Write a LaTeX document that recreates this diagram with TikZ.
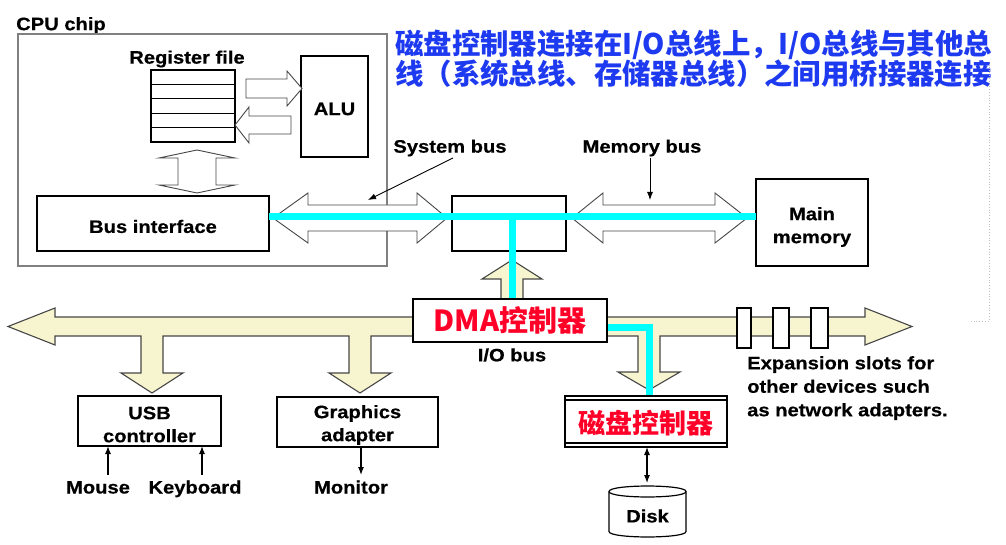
\documentclass[tikz,border=0pt]{standalone}
\usepackage{fontspec}
\setmainfont{Liberation Sans}
\newfontfamily\lab{Liberation Sans}[FakeStretch=1.12, BoldFeatures={FakeBold=0.5}]
\newfontfamily\cjk{Noto Sans CJK SC}
\usetikzlibrary{arrows.meta}

\definecolor{titleblue}{RGB}{30,58,240}
\definecolor{hotred}{RGB}{255,0,40}
\definecolor{busbeige}{RGB}{247,245,208}
\definecolor{edgegray}{RGB}{70,70,70}
\definecolor{chipgray}{RGB}{128,128,128}
\definecolor{pathcyan}{RGB}{0,255,255}
\definecolor{dotgray}{RGB}{190,190,190}

\tikzset{
  box/.style={draw=black, line width=1.2pt, fill=white, inner sep=0pt, outer sep=0pt},
  lbl/.style={font=\lab\bfseries\fontsize{18}{23}\selectfont, inner sep=0pt, align=center},
  hollow/.style={draw=edgegray, line width=0.9pt, fill=white, line join=miter},
  iobus/.style={draw=edgegray, line width=1.1pt, fill=busbeige, line join=miter},
  ptr/.style={-{Latex[length=8pt,width=6pt]}, line width=1.1pt},
  dptr/.style={{Latex[length=8pt,width=6pt]}-{Latex[length=8pt,width=6pt]}, line width=1.1pt},
  flow/.style={draw=pathcyan, line width=7pt, line join=miter},
  redtext/.style={font=\cjk\bfseries, text=hotred},
  heading/.style={font=\cjk\bfseries\fontsize{28.4}{31}\selectfont, text=titleblue, anchor=base west, inner sep=0pt}
}

\begin{document}
\begin{tikzpicture}[x=1pt,y=-1pt]
\useasboundingbox (0,0) rectangle (1006,545);

% CPU chip outline
\node[lbl, anchor=west] (cpulbl) at (16,25.5) {CPU chip};
\draw[chipgray, line width=1.1pt] (18,34) rectangle (387,266);

% register file
\node[box, minimum width=84pt, minimum height=72pt, anchor=north west] (regfile) at (151,70) {};
\foreach \yy in {84.4,98.8,113.2,127.6}
  \draw[line width=1.2pt] (151,\yy) -- (235,\yy);
\node[lbl] (reglbl) at (187,59) {Register file};

% ALU
\node[box, minimum width=67pt, minimum height=101pt, anchor=north west] (alu) at (301,56) {};
\node[lbl] (alulbl) at (334.5,109) {ALU};

% register file <-> ALU
\draw[hollow] (246,79) -- (287,79) -- (287,71) -- (302,88.5) -- (287,106) -- (287,98) -- (246,98) -- cycle;
\draw[hollow] (291,116) -- (249,116) -- (249,107) -- (235,125) -- (249,143) -- (249,134) -- (291,134) -- cycle;

% register file <-> bus interface
\draw[hollow] (197,150) -- (235,158) -- (216,158) -- (216,185) -- (235,185) -- (197,193)
  -- (159,185) -- (178,185) -- (178,158) -- (159,158) -- cycle;

% bus interface, bridge, main memory
\node[box, minimum width=232pt, minimum height=55pt, anchor=north west] (busif) at (37,196) {};
\node[lbl] (busiflbl) at (153,226.5) {Bus interface};
\node[box, minimum width=114pt, minimum height=55pt, anchor=north west] (bridge) at (452,196) {};
\node[box, minimum width=112pt, minimum height=87pt, anchor=north west] (mem) at (756,179) {};
\node[lbl] (memlbl) at (812,227) {Main\\memory};

% system bus and memory bus
\draw[hollow] (273,218) -- (308,193) -- (308,205) -- (417,205) -- (417,193) -- (447,218)
  -- (417,243) -- (417,231) -- (308,231) -- (308,243) -- cycle;
\draw[hollow] (572,218) -- (603,193) -- (603,205) -- (715,205) -- (715,193) -- (747,218)
  -- (715,243) -- (715,231) -- (603,231) -- (603,243) -- cycle;

% I/O bus with its branches
\draw[iobus] (8,326.5) -- (55,308) -- (55,317) -- (501,317) -- (501,279) -- (482,279)
  -- (512,260) -- (542,279) -- (523,279) -- (523,317) -- (865,317) -- (865,308)
  -- (912,326.5) -- (865,345) -- (865,336) -- (660,336) -- (660,372) -- (680,372)
  -- (649,390) -- (618,372) -- (638,372) -- (638,336) -- (371,336) -- (371,373)
  -- (391,373) -- (360,393) -- (329,373) -- (349,373) -- (349,336) -- (163,336)
  -- (163,373) -- (183,373) -- (152,393) -- (121,373) -- (141,373) -- (141,336)
  -- (55,336) -- (55,345) -- cycle;

% expansion slots
\foreach \xa/\xb in {737/751,773/789,811/828}
  \draw[box] (\xa,308) rectangle (\xb,348);

% DMA data path
\coordinate (jn) at (512,217);
\draw[flow] (busif.east |- jn) -- (mem.west |- jn);
\draw[flow] (jn) -- (512,300);
\draw[flow] (606,327) -- (649,327) -- (649,397);

% DMA controller
\node[box, minimum width=194pt, minimum height=43pt, redtext, font=\cjk\bfseries\fontsize{29}{32}\selectfont] (dma) at (510,320.5) {DMA控制器};
\node[lbl] (iolbl) at (512,355) {I/O bus};

\node[lbl, align=left, anchor=north west, font=\lab\bfseries\fontsize{18}{23.5}\selectfont] (exp) at (747,356) {Expansion slots for\\other devices such\\as network adapters.};

% controllers
\node[box, minimum width=143pt, minimum height=50pt, anchor=north west] (usb) at (78,396) {};
\node[lbl] (usblbl) at (149.5,424.5) {USB\\controller};
\node[box, minimum width=161pt, minimum height=50pt, anchor=north west] (gfx) at (277,397) {};
\node[lbl] (gfxlbl) at (357.5,425) {Graphics\\adapter};
\node[box, minimum width=162pt, minimum height=51pt, anchor=north west] (dkc) at (565,396) {};
\draw[line width=1.2pt] (565,400) -- (727,400);
\draw[line width=1.2pt] (565,443) -- (727,443);
\node[redtext, font=\cjk\bfseries\fontsize{27}{30}\selectfont, inner sep=0pt] (dkclbl) at (646,423) {磁盘控制器};

% devices
\node[lbl, anchor=base] (mouse) at (98,493.5) {Mouse};
\node[lbl, anchor=base] (kbd) at (195,493.5) {Keyboard};
\node[lbl, anchor=base] (mon) at (351,493.5) {Monitor};
\coordinate (mouseend) at (108,475);
\coordinate (kbdend) at (202,475);
\coordinate (monend) at (361,475);
\draw[ptr] (mouseend) -- (mouseend |- usb.south);
\draw[ptr] (kbdend) -- (kbdend |- usb.south);
\draw[ptr] (monend |- gfx.south) -- (monend);

% disk
\draw[line width=1.2pt, fill=white] (609,491.5) -- (609,531.5) .. controls (609,538.8) and (686,538.8) .. (686,531.5)
  -- (686,491.5) .. controls (686,484.2) and (609,484.2) .. (609,491.5) -- cycle;
\draw[line width=1.2pt] (609,491.5) .. controls (609,498.8) and (686,498.8) .. (686,491.5);
\node[lbl] (disk) at (647.5,516) {Disk};
\coordinate (disktop) at (647,483);
\draw[dptr] (disktop |- dkc.south) -- (disktop);

% bus labels
\node[lbl] (sbl) at (450,148) {System bus};
\node[lbl] (mbl) at (642,148) {Memory bus};
\coordinate (sbtip) at (368,200);
\coordinate (mbtip) at (650,200);
\draw[ptr, line width=0.9pt] (453,158) -- (sbtip);
\draw[ptr, line width=0.9pt] (650,158) -- (mbtip);

% heading
\node[heading] (head1) at (395,55) {磁盘控制器连接在I/O总线上，I/O总线与其他总};
\node[heading] (head2) at (395,85) {线（系统总线、存储器总线）之间用桥接器连接};
\draw[dotgray, dotted, line width=0.8pt] (989,64) -- (989,321) -- (970,321);
\end{tikzpicture}
\end{document}
